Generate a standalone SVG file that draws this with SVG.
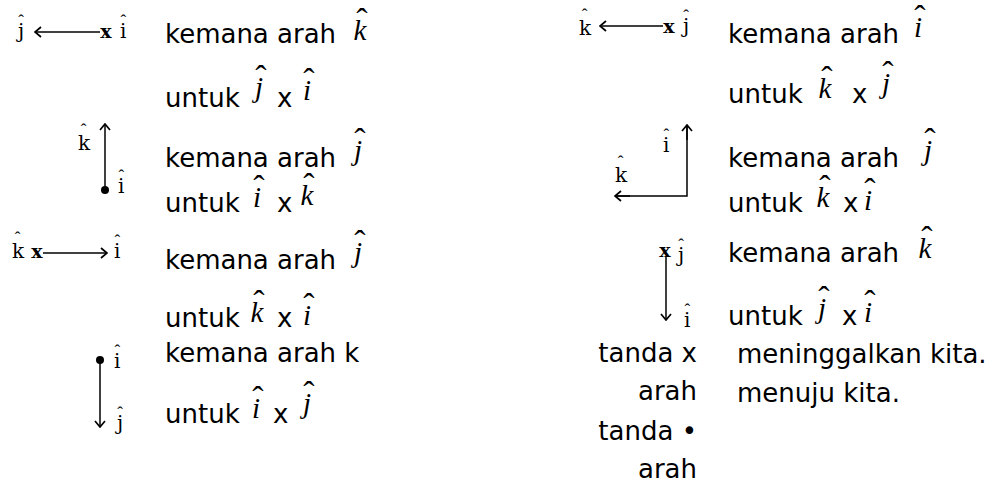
<svg xmlns="http://www.w3.org/2000/svg" width="996" height="486" viewBox="0 0 996 486">
<style>
.t{font-family:"DejaVu Sans",sans-serif;font-size:26px;fill:#000}
.tr{font-family:"DejaVu Sans",sans-serif;font-size:26px;fill:#000;text-anchor:end}
.m{font-family:"Liberation Serif",serif;font-style:italic;font-size:29px;fill:#000}
.mh{font-style:normal;font-size:34px}
.l{font-family:"DejaVu Serif",serif;font-size:20px;fill:#000}
.lh{font-family:"Liberation Serif",serif;font-size:17px}
.x{font-family:"DejaVu Serif",serif;font-weight:bold;font-size:19px;fill:#000;text-anchor:middle}
.c{stroke:#000;stroke-width:1.5;fill:none}
</style>
<defs>
<marker id="ah" viewBox="0 0 8 12" refX="7" refY="6" markerWidth="8" markerHeight="12" orient="auto" markerUnits="userSpaceOnUse">
<path d="M1,1 L7,6 L1,11" fill="none" stroke="#000" stroke-width="1.7"/>
</marker>
</defs>
<g id="connectors">
<line class="c" x1="100" y1="32" x2="35" y2="32" marker-end="url(#ah)"/>
<line class="c" x1="105" y1="190" x2="105" y2="124" marker-end="url(#ah)"/>
<line class="c" x1="43" y1="253" x2="107" y2="253" marker-end="url(#ah)"/>
<line class="c" x1="100" y1="360" x2="100" y2="427" marker-end="url(#ah)"/>
<line class="c" x1="663" y1="26" x2="600" y2="26" marker-end="url(#ah)"/>
<polyline class="c" points="687,125 687,196 615,196"/>
<line class="c" x1="687" y1="140" x2="687" y2="125" marker-end="url(#ah)"/>
<line class="c" x1="630" y1="196" x2="615" y2="196" marker-end="url(#ah)"/>
<line class="c" x1="666" y1="257" x2="666" y2="320" marker-end="url(#ah)"/>
</g>
<g id="fig1">
<text class="l" x="18" y="38">j<tspan class="lh" dx="-6" dy="-12">ˆ</tspan></text>
<text class="x" x="106" y="38">x</text>
<text class="l" x="120" y="38">i<tspan class="lh" dx="-6" dy="-12">ˆ</tspan></text>
</g>
<g id="fig2">
<text class="l" x="78" y="150">k<tspan class="lh" dx="-9.5" dy="-15">ˆ</tspan></text>
<circle cx="105" cy="190" r="4"/>
<text class="l" x="118" y="193">i<tspan class="lh" dx="-6" dy="-12">ˆ</tspan></text>
</g>
<g id="fig3">
<text class="l" x="12" y="258">k<tspan class="lh" dx="-9.5" dy="-15">ˆ</tspan></text>
<text class="x" x="37" y="258">x</text>
<text class="l" x="114" y="258">i<tspan class="lh" dx="-6" dy="-12">ˆ</tspan></text>
</g>
<g id="fig4">
<circle cx="100" cy="360" r="4"/>
<text class="l" x="114" y="368">i<tspan class="lh" dx="-6" dy="-12">ˆ</tspan></text>
<text class="l" x="117" y="430">j<tspan class="lh" dx="-6" dy="-12">ˆ</tspan></text>
</g>
<g id="fig5">
<text class="l" x="579" y="35">k<tspan class="lh" dx="-9.5" dy="-15">ˆ</tspan></text>
<text class="x" x="669" y="33">x</text>
<text class="l" x="683" y="33">j<tspan class="lh" dx="-6" dy="-12">ˆ</tspan></text>
</g>
<g id="fig6">
<text class="l" x="663" y="152">i<tspan class="lh" dx="-6" dy="-12">ˆ</tspan></text>
<text class="l" x="615" y="182">k<tspan class="lh" dx="-9.5" dy="-15">ˆ</tspan></text>
</g>
<g id="fig7">
<text class="x" x="665" y="257">x</text>
<text class="l" x="678" y="262">j<tspan class="lh" dx="-6" dy="-12">ˆ</tspan></text>
<text class="l" x="684" y="327">i<tspan class="lh" dx="-6" dy="-12">ˆ</tspan></text>
</g>
<g id="left-text">
<text class="t" x="165" y="43">kemana arah</text>
<text class="m" x="353.5" y="40">k<tspan class="mh" dx="-10.2" dy="-8">ˆ</tspan></text>
<text class="t" x="165" y="107">untuk</text>
<text class="m" x="255" y="97">j<tspan class="mh" dx="-7.7" dy="-8">ˆ</tspan></text>
<text class="t" x="277" y="107">x</text>
<text class="m" x="303" y="100">i<tspan class="mh" dx="-7.7" dy="-8">ˆ</tspan></text>
<text class="t" x="165" y="167">kemana arah</text>
<text class="m" x="354" y="160">j<tspan class="mh" dx="-7.7" dy="-8">ˆ</tspan></text>
<text class="t" x="165" y="212">untuk</text>
<text class="m" x="253" y="207">i<tspan class="mh" dx="-7.7" dy="-8">ˆ</tspan></text>
<text class="t" x="277" y="212">x</text>
<text class="m" x="300.5" y="205">k<tspan class="mh" dx="-10.2" dy="-8">ˆ</tspan></text>
<text class="t" x="165" y="269">kemana arah</text>
<text class="m" x="354" y="262">j<tspan class="mh" dx="-7.7" dy="-8">ˆ</tspan></text>
<text class="t" x="165" y="327">untuk</text>
<text class="m" x="250.5" y="322">k<tspan class="mh" dx="-10.2" dy="-8">ˆ</tspan></text>
<text class="t" x="277" y="327">x</text>
<text class="m" x="303" y="325">i<tspan class="mh" dx="-7.7" dy="-8">ˆ</tspan></text>
<text class="t" x="165" y="362">kemana arah k</text>
<text class="t" x="165" y="423">untuk</text>
<text class="m" x="252" y="418">i<tspan class="mh" dx="-7.7" dy="-8">ˆ</tspan></text>
<text class="t" x="273" y="423">x</text>
<text class="m" x="303" y="413">j<tspan class="mh" dx="-7.7" dy="-8">ˆ</tspan></text>
</g>
<g id="right-text">
<text class="t" x="728" y="43">kemana arah</text>
<text class="m" x="914" y="37">i<tspan class="mh" dx="-7.7" dy="-8">ˆ</tspan></text>
<text class="t" x="728" y="103">untuk</text>
<text class="m" x="818.5" y="98">k<tspan class="mh" dx="-10.2" dy="-8">ˆ</tspan></text>
<text class="t" x="852" y="103">x</text>
<text class="m" x="882" y="93">j<tspan class="mh" dx="-7.7" dy="-8">ˆ</tspan></text>
<text class="t" x="728" y="167">kemana arah</text>
<text class="m" x="924" y="160">j<tspan class="mh" dx="-7.7" dy="-8">ˆ</tspan></text>
<text class="t" x="728" y="212">untuk</text>
<text class="m" x="816.5" y="207">k<tspan class="mh" dx="-10.2" dy="-8">ˆ</tspan></text>
<text class="t" x="843" y="212">x</text>
<text class="m" x="864" y="210">i<tspan class="mh" dx="-7.7" dy="-8">ˆ</tspan></text>
<text class="t" x="728" y="262">kemana arah</text>
<text class="m" x="918.5" y="258">k<tspan class="mh" dx="-10.2" dy="-8">ˆ</tspan></text>
<text class="t" x="728" y="325">untuk</text>
<text class="m" x="818" y="318">j<tspan class="mh" dx="-7.7" dy="-8">ˆ</tspan></text>
<text class="t" x="842" y="325">x</text>
<text class="m" x="864" y="322">i<tspan class="mh" dx="-7.7" dy="-8">ˆ</tspan></text>
</g>
<g id="legend">
<text class="tr" x="697" y="362">tanda x</text>
<text class="tr" x="697" y="400">arah</text>
<text class="tr" x="697" y="440">tanda •</text>
<text class="tr" x="697" y="478">arah</text>
<text class="t" x="737" y="363">meninggalkan kita.</text>
<text class="t" x="737" y="402">menuju kita.</text>
</g>
</svg>
